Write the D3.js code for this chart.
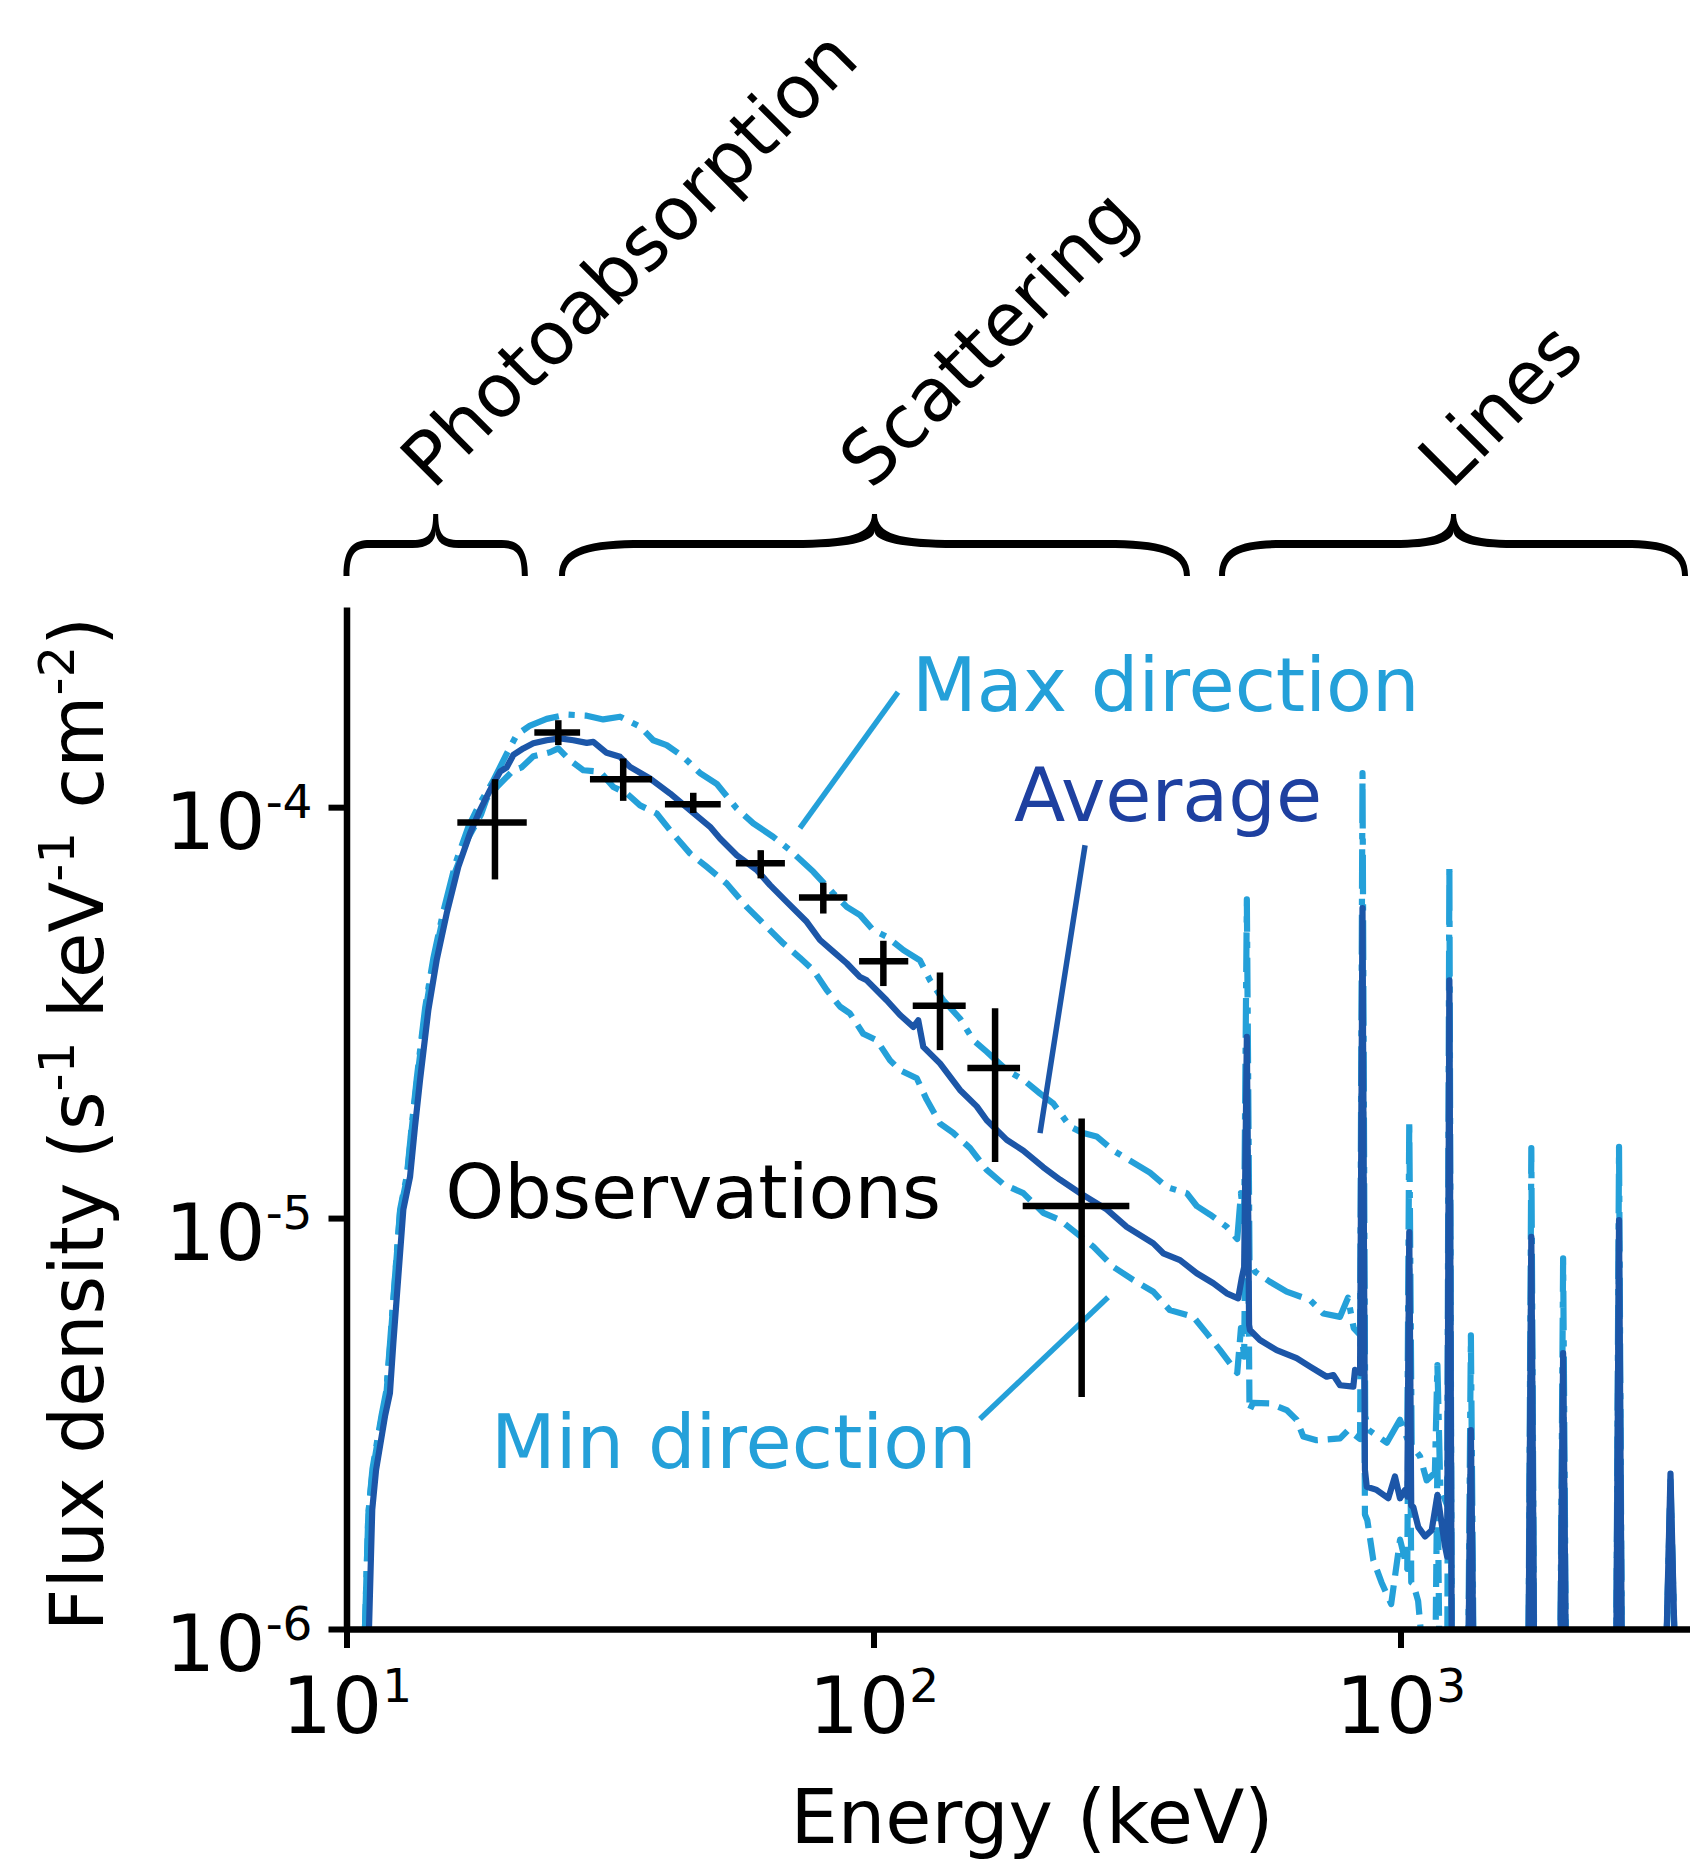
<!DOCTYPE html>
<html>
<head>
<meta charset="utf-8">
<script src="https://cdn.jsdelivr.net/npm/d3@7"></script>
<style>
  html, body { margin: 0; padding: 0; background: #fff; }
  svg { display: block; font-family: "DejaVu Sans", sans-serif; }
</style>
</head>
<body>
<div id="chart"></div>
<script>
// ─── Data (energy in keV, flux density in s^-1 keV^-1 cm^-2) ───

const averageCurve = [
  [10.95, 7e-7], [11.19, 1.95e-6], [11.38, 2.44e-6], [11.83, 3.29e-6], [12.09, 3.75e-6],
  [12.27, 4.96e-6], [12.54, 7.2e-6], [12.82, 1.05e-5], [13.2, 1.26e-5], [13.49, 1.67e-5],
  [13.79, 2.17e-5], [14.3, 3.21e-5], [14.83, 4.25e-5], [15.49, 5.51e-5], [16.3, 7.16e-5],
  [17.15, 8.63e-5], [17.92, 9.83e-5], [18.72, 1.1e-4], [19.56, 1.22e-4], [20.14, 1.25e-4],
  [20.73, 1.34e-4], [21.65, 1.39e-4], [22.62, 1.43e-4], [23.98, 1.455e-4], [25.42, 1.47e-4],
  [26.94, 1.455e-4], [28.57, 1.434e-4], [29.4, 1.442e-4], [31.16, 1.356e-4], [33.04, 1.326e-4],
  [34.51, 1.253e-4], [37.65, 1.174e-4], [41.1, 1.08e-4], [44.85, 9.83e-5], [48.96, 8.96e-5],
  [51.14, 8.39e-5], [55.02, 7.64e-5], [60.03, 7.03e-5], [63.64, 6.46e-5], [68.44, 5.88e-5],
  [74.7, 5.26e-5], [79.15, 4.75e-5], [83.9, 4.45e-5], [88.96, 4.17e-5], [94.3, 3.86e-5],
  [97.1, 3.79e-5], [105.9, 3.39e-5], [112.3, 3.12e-5], [119, 2.92e-5], [121.6, 3.03e-5],
  [124.3, 2.61e-5], [133.7, 2.38e-5], [145.9, 2.05e-5], [157, 1.87e-5], [164, 1.73e-5],
  [179, 1.55e-5], [192.4, 1.46e-5], [209.9, 1.33e-5], [225.9, 1.24e-5], [246.6, 1.15e-5],
  [277, 1.05e-5], [302.3, 9.52e-6], [339.6, 8.68e-6], [354.7, 8.21e-6], [381.6, 7.9e-6],
  [410.5, 7.34e-6], [441.4, 6.94e-6], [468, 6.56e-6], [492, 6.38e-6], [499.6, 7.13e-6],
  [505, 7.6e-6], [511, 2.76e-5], [516, 5.5e-6], [518, 5.34e-6], [541, 5.05e-6],
  [582, 4.77e-6], [635, 4.56e-6], [673.5, 4.35e-6], [724.4, 4.11e-6], [745.6, 4.15e-6],
  [767.7, 3.92e-6], [813.7, 3.89e-6], [819.7, 4.27e-6], [838, 4.2e-6], [847, 5.68e-5],
  [856, 2.44e-6], [862.8, 2.22e-6], [901, 2.18e-6], [948, 2.08e-6], [976, 2.35e-6],
  [997.7, 2.08e-6], [1020, 2.18e-6], [1030, 2.1e-6], [1039, 9.25e-6], [1048, 2.0e-6],
  [1057.5, 1.98e-6], [1080.7, 1.77e-6], [1113, 1.68e-6], [1146, 1.74e-6], [1175, 2.12e-6],
  [1214.6, 1.59e-6], [1226, 1.5e-6], [1238, 3.79e-5], [1252, 6e-7], [1341, 6e-7],
  [1360, 3.05e-6], [1379, 6e-7], [1746, 6e-7], [1771, 9.0e-6], [1796, 6e-7],
  [2006, 6e-7], [2035, 4.69e-6], [2064, 6e-7], [2562, 6e-7], [2598, 9.89e-6],
  [2634, 6e-7], [3170, 6e-7], [3253, 2.39e-6], [3340, 6e-7], [4000, 6e-7]
];

const maxCurve = [
  [10.75, 7e-7], [11.0, 1.9e-6], [11.2, 2.45e-6], [11.65, 3.3e-6], [11.9, 3.8e-6],
  [12.1, 5.0e-6], [12.36, 7.2e-6], [12.64, 1.05e-5], [13.02, 1.27e-5], [13.3, 1.68e-5],
  [13.6, 2.2e-5], [14.1, 3.25e-5], [14.62, 4.3e-5], [15.28, 5.6e-5], [16.1, 7.3e-5],
  [17.0, 8.9e-5], [17.9, 1.02e-4], [18.99, 1.16e-4], [20.14, 1.35e-4], [21.04, 1.5e-4],
  [22.3, 1.58e-4], [23.98, 1.64e-4], [26.17, 1.68e-4], [28.57, 1.67e-4], [30.7, 1.635e-4],
  [33.04, 1.66e-4], [36.06, 1.57e-4], [38.2, 1.455e-4], [40.5, 1.416e-4], [43.56, 1.326e-4],
  [46.87, 1.21e-4], [50.4, 1.14e-4], [55.02, 9.93e-5], [59.14, 9.13e-5], [64.54, 8.47e-5],
  [69.43, 7.86e-5], [76.9, 6.96e-5], [83.9, 6.17e-5], [88.96, 5.72e-5], [94.3, 5.46e-5],
  [99.9, 5.02e-5], [105.9, 4.84e-5], [114, 4.49e-5], [122.5, 4.24e-5], [128, 3.79e-5],
  [135.7, 3.39e-5], [145.9, 3.06e-5], [154.7, 2.71e-5], [164, 2.54e-5], [179, 2.29e-5],
  [192.4, 2.17e-5], [207, 2.01e-5], [219.4, 1.9e-5], [236, 1.67e-5], [250, 1.61e-5],
  [265, 1.58e-5], [285, 1.46e-5], [306.7, 1.38e-5], [334.6, 1.29e-5], [360, 1.19e-5],
  [393, 1.15e-5], [410.5, 1.07e-5], [435, 1.02e-5], [468, 9.52e-6], [490, 8.9e-6],
  [498, 1.15e-5], [505, 9.8e-6], [511, 5.97e-5], [517, 7.9e-6], [530, 7.4e-6],
  [565, 7.0e-6], [608, 6.62e-6], [673.5, 6.32e-6], [713.7, 5.86e-6], [767.7, 5.75e-6],
  [795, 6.4e-6], [815, 5.4e-6], [838, 5.2e-6], [847, 1.21e-4], [857, 3.3e-6],
  [870, 3.05e-6], [942, 2.84e-6], [997.7, 3.23e-6], [1030, 2.9e-6], [1039, 1.73e-5],
  [1050, 2.8e-6], [1089, 2.63e-6], [1121, 2.3e-6], [1162, 2.4e-6], [1175, 4.39e-6],
  [1190, 2.2e-6], [1226, 2.0e-6], [1238, 7.23e-5], [1252, 6e-7], [1341, 6e-7],
  [1360, 5.18e-6], [1379, 6e-7], [1746, 6e-7], [1771, 1.48e-5], [1796, 6e-7],
  [2006, 6e-7], [2035, 7.98e-6], [2064, 6e-7], [2562, 6e-7], [2598, 1.49e-5],
  [2634, 6e-7], [3170, 6e-7], [3253, 2.3e-6], [3340, 6e-7], [4000, 6e-7]
];

const minCurve = [
  [10.75, 7e-7], [11.0, 1.9e-6], [11.2, 2.4e-6], [11.65, 3.25e-6], [11.9, 3.7e-6],
  [12.1, 4.9e-6], [12.36, 7.1e-6], [12.64, 1.04e-5], [13.02, 1.25e-5], [13.3, 1.65e-5],
  [13.6, 2.15e-5], [14.1, 3.15e-5], [14.62, 4.2e-5], [15.28, 5.45e-5], [16.1, 7.0e-5],
  [17.0, 8.4e-5], [18.0, 9.6e-5], [18.45, 1.05e-4], [19.3, 1.12e-4], [20.73, 1.23e-4],
  [21.5, 1.25e-4], [22.62, 1.33e-4], [24.33, 1.36e-4], [25.23, 1.39e-4], [26.56, 1.3e-4],
  [28.14, 1.23e-4], [30.27, 1.22e-4], [32.09, 1.12e-4], [34.02, 1.08e-4], [36.06, 1.01e-4],
  [38.78, 9.65e-5], [41.1, 8.79e-5], [44.85, 7.72e-5], [48.25, 7.16e-5], [52.64, 6.52e-5],
  [57.45, 5.72e-5], [61.8, 5.21e-5], [67.44, 4.66e-5], [72.5, 4.3e-5], [76.9, 4.01e-5],
  [81.5, 3.59e-5], [86.4, 3.27e-5], [90.2, 3.15e-5], [95.6, 2.81e-5], [101.4, 2.71e-5],
  [107.5, 2.42e-5], [112.3, 2.29e-5], [120.8, 2.19e-5], [126.2, 1.94e-5], [133.7, 1.7e-5],
  [141.8, 1.61e-5], [152.5, 1.48e-5], [164, 1.31e-5], [176.3, 1.21e-5], [192.4, 1.15e-5],
  [209.9, 1.03e-5], [225.9, 9.89e-6], [243, 9.18e-6], [261.3, 8.52e-6], [285, 7.61e-6],
  [311, 7.07e-6], [339.6, 6.62e-6], [365, 5.97e-6], [404.5, 5.75e-6], [428.9, 5.24e-6],
  [454.6, 4.77e-6], [474.9, 4.43e-6], [490, 4.2e-6], [498, 5.4e-6], [505, 4.6e-6],
  [511, 2.2e-5], [517, 3.4e-6], [525, 3.55e-6], [565.4, 3.54e-6], [608, 3.41e-6],
  [635, 3.23e-6], [654, 2.94e-6], [693, 2.88e-6], [767.7, 2.91e-6], [796, 3.05e-6],
  [838, 2.9e-6], [847, 4.5e-5], [856, 1.9e-6], [865, 1.84e-6], [888, 1.47e-6],
  [920, 1.3e-6], [960, 1.15e-6], [998, 1.65e-6], [1030, 1.4e-6], [1039, 7.5e-6],
  [1048, 1.3e-6], [1057, 1.29e-6], [1080, 1.17e-6], [1100, 9e-7], [1150, 8e-7],
  [1164, 8e-7], [1175, 2.6e-6], [1186, 8e-7], [1226, 7e-7], [1238, 3.0e-5],
  [1252, 6e-7], [1341, 6e-7], [1360, 2.7e-6], [1379, 6e-7], [1746, 6e-7],
  [1771, 8.0e-6], [1796, 6e-7], [2006, 6e-7], [2035, 4.2e-6], [2064, 6e-7],
  [2562, 6e-7], [2598, 8.8e-6], [2634, 6e-7], [3170, 6e-7], [3253, 2.2e-6],
  [3340, 6e-7], [4000, 6e-7]
];

// Observed points with energy-bin and flux error bars
const obsEnergy   = [19.13, 25.23, 33.5, 45.5, 61.1, 80.3, 104.4, 133.7, 170.1, 248.3];
const obsEnergyLo = [16.23, 22.72, 28.97, 40.2, 54.8, 72.2, 93.9, 118.7, 150.7, 191.9];
const obsEnergyHi = [21.98, 27.75, 38.0, 51.3, 67.9, 89.2, 116.4, 149.6, 189.7, 305.8];
const obsFlux     = [9.18e-5, 1.52e-4, 1.17e-4, 1.017e-4, 7.3e-5, 6.03e-5, 4.22e-5, 3.285e-5, 2.32e-5, 1.07e-5];
const obsFluxLo   = [6.67e-5, 1.416e-4, 1.036e-4, 9.68e-5, 6.71e-5, 5.51e-5, 3.67e-5, 2.563e-5, 1.37e-5, 3.67e-6];
const obsFluxHi   = [1.17e-4, 1.628e-4, 1.314e-4, 1.084e-4, 7.86e-5, 6.55e-5, 4.73e-5, 3.96e-5, 3.24e-5, 1.748e-5];

// Energy regimes marked with curly braces above the plot
const regimeNames = ['Photoabsorption', 'Scattering', 'Lines'];
const regimeFrom  = [10, 25.64, 458.5];
const regimeTo    = [21.8, 393.4, 3467];

const xTicks = [10, 100, 1000];
const yTicks = [1e-6, 1e-5, 1e-4];

// ─── Layout ───
const WIDTH = 1690, HEIGHT = 1861;
const LIGHT = '#24a0d9';
const DARK = '#1c56a8';
const LW = 6.2;

const svg = d3.select('#chart').append('svg')
  .attr('width', WIDTH)
  .attr('height', HEIGHT)
  .attr('viewBox', `0 0 ${WIDTH} ${HEIGHT}`);

const x = d3.scaleLog().domain([10, 4000]).range([346.5, 1717.8]);
const y = d3.scaleLog().domain([1e-6, 3.07e-4]).range([1629, 607]);

svg.append('clipPath').attr('id', 'plot-clip')
  .append('rect')
  .attr('x', x.range()[0]).attr('y', y.range()[1])
  .attr('width', x.range()[1] - x.range()[0])
  .attr('height', y.range()[0] - y.range()[1]);

// "10" followed by a raised, smaller exponent
function powerText(sel, v, base, sup, raise) {
  const exp = String(Math.round(Math.log10(v)));
  sel.text(null);
  sel.append('tspan').style('font-size', base + 'px').text('10');
  sel.append('tspan').style('font-size', sup + 'px').attr('dy', -raise).text(exp);
}

// ─── Curves ───
const line = d3.line().x(d => x(d[0])).y(d => y(d[1]));
const curves = svg.append('g').attr('clip-path', 'url(#plot-clip)')
  .attr('fill', 'none')
  .attr('stroke-linejoin', 'round');

curves.append('path').datum(maxCurve)
  .attr('d', line)
  .attr('stroke', LIGHT)
  .attr('stroke-width', LW)
  .attr('stroke-dasharray', [6.4 * LW, 1.6 * LW, LW, 1.6 * LW].join(','));

curves.append('path').datum(minCurve)
  .attr('d', line)
  .attr('stroke', LIGHT)
  .attr('stroke-width', LW)
  .attr('stroke-dasharray', [3.7 * LW, 1.6 * LW].join(','));

curves.append('path').datum(averageCurve)
  .attr('d', line)
  .attr('stroke', DARK)
  .attr('stroke-width', LW);

// ─── Annotations (text + pointer, anchored in data space) ───
const notes = [
  { text: 'Max direction', color: LIGHT, at: [118.3, 1.713e-4], from: [111.3, 1.905e-4], to: [72.5, 8.89e-5], lineColor: LIGHT },
  { text: 'Average', color: '#1e40a0', at: [184.8, 9.24e-5], from: [252, 8.08e-5], to: [207, 1.61e-5], lineColor: DARK },
  { text: 'Min direction', color: LIGHT, at: [18.8, 2.464e-6], from: [159.2, 3.243e-6], to: [278.6, 6.42e-6], lineColor: LIGHT },
  { text: 'Observations', color: '#000', at: [15.4, 1e-5] }
];

const noteGroup = svg.append('g');
notes.filter(n => n.from).forEach(n => {
  noteGroup.append('line')
    .attr('x1', x(n.from[0])).attr('y1', y(n.from[1]))
    .attr('x2', x(n.to[0])).attr('y2', y(n.to[1]))
    .attr('stroke', n.lineColor)
    .attr('stroke-width', 5.5);
});
noteGroup.selectAll('text')
  .data(notes)
  .join('text')
  .attr('x', d => x(d.at[0]))
  .attr('y', d => y(d.at[1]))
  .attr('fill', d => d.color)
  .style('font-size', '75px')
  .text(d => d.text);

// ─── Observations ───
const obs = svg.append('g').attr('stroke', '#000').attr('stroke-width', 6.5);
obsEnergy.forEach((e, i) => {
  obs.append('line')
    .attr('x1', x(obsEnergyLo[i])).attr('x2', x(obsEnergyHi[i]))
    .attr('y1', y(obsFlux[i])).attr('y2', y(obsFlux[i]));
  obs.append('line')
    .attr('x1', x(e)).attr('x2', x(e))
    .attr('y1', y(obsFluxLo[i])).attr('y2', y(obsFluxHi[i]));
});

// ─── Axes ───
const xAxis = svg.append('g')
  .attr('transform', `translate(0,${y.range()[0]})`)
  .call(d3.axisBottom(x).tickValues(xTicks).tickSize(19).tickSizeOuter(0));
const yAxis = svg.append('g')
  .attr('transform', `translate(${x.range()[0]},0)`)
  .call(d3.axisLeft(y).tickValues(yTicks).tickSize(18).tickSizeOuter(0));

[xAxis, yAxis].forEach(ax => {
  ax.select('.domain').attr('stroke', '#000').attr('stroke-width', 6.5);
  ax.selectAll('.tick line').attr('stroke', '#000').attr('stroke-width', 6);
  ax.selectAll('.tick text')
    .attr('fill', '#000')
    .style('font-family', '"DejaVu Sans", sans-serif')
    .each(function(d) { powerText(d3.select(this), d, 79, 47, 31); });
});
xAxis.selectAll('.tick text').attr('y', 104).attr('dy', 0).attr('text-anchor', 'middle');
yAxis.selectAll('.tick text').attr('x', -34).attr('dy', 41).attr('text-anchor', 'end');

svg.append('text')
  .attr('x', 1032)
  .attr('y', 1843)
  .attr('text-anchor', 'middle')
  .style('font-size', '75px')
  .text('Energy (keV)');

// y label with raised exponents
const yLabel = svg.append('text')
  .attr('transform', 'translate(103,1124) rotate(-90)')
  .attr('text-anchor', 'middle')
  .style('font-size', '74px');
[['Flux density (s', 0], ['-1', 1], [' keV', 0], ['-1', 1], [' cm', 0], ['-2', 1], [')', 0]]
  .forEach(([t, up], i, arr) => {
    const prevUp = i > 0 ? arr[i - 1][1] : 0;
    yLabel.append('tspan')
      .style('font-size', up ? '50px' : '74px')
      .attr('dy', up ? -29 : (prevUp ? 29 : 0))
      .text(t);
  });

// ─── Regime braces ───
const BRACE = { end: 576, top: 540, bottom: 548, tip: 514, join: 531 };
function bracePath(x0, x1) {
  const xm = (x0 + x1) / 2;
  const a = 0.13 * (x1 - x0);
  const b = 0.13 * (x1 - x0);
  const { end, top, bottom, tip, join } = BRACE;
  return [
    `M${x0 - 3},${end}`,
    `C${x0 - 3},${top + 6} ${x0 + a * 0.35},${top} ${x0 + a},${top}`,
    `L${xm - b},${top}`,
    `C${xm - b * 0.3},${top} ${xm - 2.5},${top - 6} ${xm - 2.5},${tip}`,
    `L${xm + 2.5},${tip}`,
    `C${xm + 2.5},${top - 6} ${xm + b * 0.3},${top} ${xm + b},${top}`,
    `L${x1 - a},${top}`,
    `C${x1 - a * 0.35},${top} ${x1 + 3},${top + 6} ${x1 + 3},${end}`,
    `L${x1 - 3},${end}`,
    `C${x1 - 3},${bottom + 6} ${x1 - a * 0.35},${bottom} ${x1 - a},${bottom}`,
    `L${xm + b},${bottom}`,
    `C${xm + b * 0.35},${bottom} ${xm},${bottom - 6} ${xm},${join}`,
    `C${xm},${bottom - 6} ${xm - b * 0.35},${bottom} ${xm - b},${bottom}`,
    `L${x0 + a},${bottom}`,
    `C${x0 + a * 0.35},${bottom} ${x0 + 3},${bottom + 6} ${x0 + 3},${end}`,
    'Z'
  ].join(' ');
}

const braces = svg.append('g');
regimeNames.forEach((name, i) => {
  const x0 = x(regimeFrom[i]);
  const x1 = x(regimeTo[i]);
  const xm = (x0 + x1) / 2;
  braces.append('path')
    .attr('d', bracePath(x0, x1))
    .attr('fill', '#000');
  braces.append('text')
    .attr('transform', `translate(${xm - 3},491) rotate(-45)`)
    .style('font-size', '74px')
    .text(name);
});
</script>
</body>
</html>
